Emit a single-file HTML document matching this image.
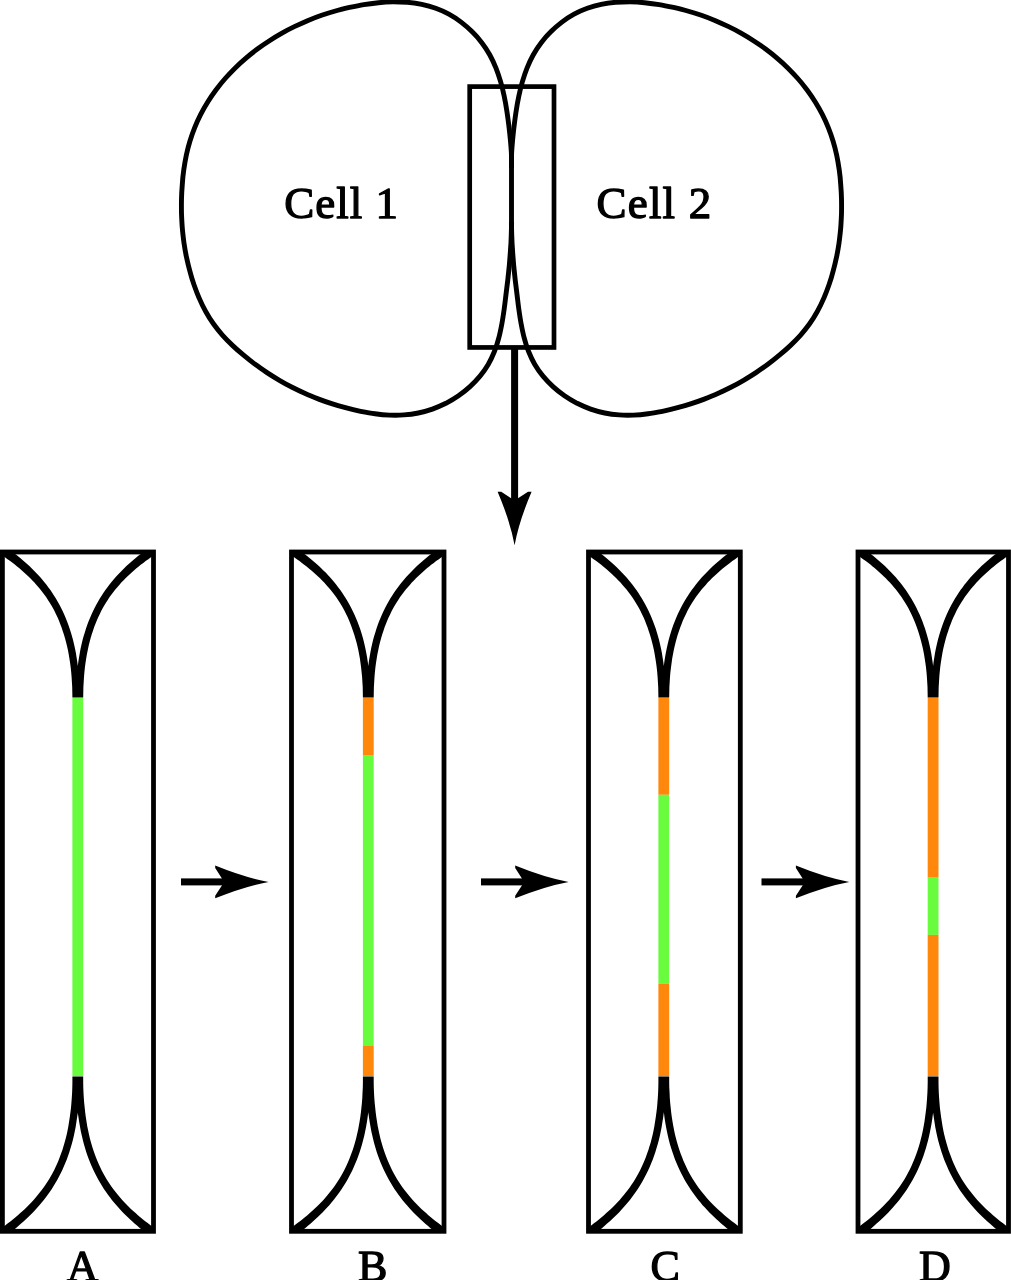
<!DOCTYPE html>
<html><head><meta charset="utf-8"><title>Cell junction diagram</title>
<style>
html,body{margin:0;padding:0;background:#fff;}
body{width:1011px;height:1280px;overflow:hidden;}
svg{display:block;will-change:transform;transform:translateZ(0);}
text{font-family:"Liberation Serif",serif;fill:#000;stroke:#000;stroke-width:1.3px;stroke-linejoin:round;}
</style></head>
<body>
<svg width="1011" height="1280" viewBox="0 0 1011 1280">
<rect width="1011" height="1280" fill="#fff"/>
<!-- two cells -->
<path d="M511.5,168.0 C511.5,165.6 511.6,158.3 511.4,153.5 C511.2,148.6 510.7,143.8 510.3,139.0 C509.8,134.1 509.3,129.3 508.7,124.5 C508.1,119.7 507.5,114.9 506.7,110.1 C506.0,105.4 505.1,100.6 504.1,95.8 C503.1,91.0 502.0,86.3 500.6,81.6 C499.2,77.0 497.7,72.4 495.9,67.9 C494.1,63.4 492.0,59.0 489.7,54.8 C487.4,50.6 484.8,46.6 481.8,42.7 C478.9,38.9 475.7,35.2 472.2,31.8 C468.8,28.3 465.0,25.1 461.1,22.1 C457.3,19.2 453.2,16.4 448.9,14.1 C444.7,11.8 440.2,9.8 435.7,8.2 C431.2,6.6 426.5,5.3 421.8,4.3 C417.1,3.4 412.3,2.7 407.5,2.3 C402.7,1.9 397.9,1.8 393.0,1.8 C388.1,1.9 383.2,2.2 378.4,2.7 C373.5,3.2 368.6,3.8 363.8,4.6 C359.0,5.4 354.2,6.4 349.5,7.4 C344.8,8.5 340.1,9.6 335.4,11.0 C330.8,12.3 326.2,13.7 321.6,15.3 C317.1,16.9 312.6,18.6 308.1,20.4 C303.7,22.3 299.3,24.3 294.9,26.4 C290.5,28.5 286.2,30.7 282.0,33.1 C277.7,35.5 273.6,38.0 269.5,40.7 C265.4,43.3 261.3,46.1 257.4,49.0 C253.5,51.9 249.7,54.9 246.0,58.1 C242.3,61.2 238.7,64.5 235.2,67.9 C231.8,71.3 228.4,74.8 225.2,78.5 C222.0,82.1 219.0,85.9 216.1,89.7 C213.2,93.6 210.4,97.6 207.9,101.7 C205.3,105.8 202.9,110.1 200.7,114.4 C198.5,118.7 196.5,123.1 194.7,127.6 C192.9,132.1 191.3,136.6 189.9,141.3 C188.5,145.9 187.3,150.6 186.3,155.3 C185.3,160.1 184.5,164.9 183.8,169.7 C183.1,174.5 182.6,179.4 182.3,184.3 C181.9,189.1 181.6,194.0 181.5,198.9 C181.4,203.7 181.4,208.6 181.5,213.5 C181.7,218.3 181.9,223.2 182.3,228.0 C182.7,232.9 183.3,237.7 183.9,242.5 C184.6,247.3 185.4,252.0 186.4,256.8 C187.4,261.5 188.5,266.3 189.8,270.9 C191.0,275.6 192.4,280.3 194.0,284.8 C195.6,289.4 197.3,294.0 199.3,298.4 C201.2,302.9 203.3,307.3 205.7,311.5 C208.0,315.7 210.6,319.9 213.4,323.8 C216.2,327.7 219.2,331.5 222.4,335.1 C225.7,338.8 229.1,342.2 232.7,345.6 C236.2,348.9 239.9,352.1 243.6,355.2 C247.4,358.4 251.2,361.4 255.1,364.3 C259.0,367.2 263.0,369.9 267.0,372.6 C271.1,375.3 275.2,377.8 279.4,380.3 C283.5,382.7 287.8,385.1 292.1,387.3 C296.4,389.5 300.8,391.6 305.2,393.5 C309.6,395.5 314.1,397.3 318.7,399.1 C323.2,400.8 327.8,402.4 332.4,403.9 C337.0,405.4 341.7,406.7 346.4,407.9 C351.1,409.2 355.8,410.3 360.6,411.3 C365.4,412.2 370.2,413.1 375.0,413.7 C379.8,414.4 384.6,414.9 389.5,415.1 C394.3,415.3 399.1,415.3 403.9,414.9 C408.7,414.6 413.5,414.0 418.3,413.0 C423.0,412.0 427.8,410.7 432.4,409.1 C437.0,407.4 441.5,405.5 445.9,403.3 C450.2,401.0 454.5,398.5 458.5,395.7 C462.5,393.0 466.4,389.9 470.0,386.6 C473.5,383.4 476.9,379.8 480.0,376.1 C483.0,372.4 485.8,368.5 488.2,364.4 C490.6,360.3 492.6,356.0 494.4,351.5 C496.2,347.1 497.6,342.5 498.8,337.8 C500.1,333.2 501.0,328.4 501.9,323.6 C502.8,318.8 503.5,313.9 504.2,309.0 C504.9,304.1 505.4,299.3 506.0,294.4 C506.6,289.6 507.2,284.7 507.8,279.9 C508.3,275.1 508.8,270.3 509.3,265.5 C509.7,260.7 510.1,255.9 510.4,251.1 C510.8,246.2 511.1,241.4 511.2,236.6 C511.4,231.7 511.5,224.4 511.6,222.0" fill="none" stroke="#000" stroke-width="4.9" stroke-linejoin="round"/>
<path d="M511.5,168.0 C511.5,165.6 511.4,158.3 511.6,153.5 C511.8,148.6 512.3,143.8 512.7,139.0 C513.2,134.1 513.7,129.3 514.3,124.5 C514.9,119.7 515.5,114.9 516.3,110.1 C517.0,105.4 517.9,100.6 518.9,95.8 C519.9,91.0 521.0,86.3 522.4,81.6 C523.8,77.0 525.3,72.4 527.1,67.9 C528.9,63.4 531.0,59.0 533.3,54.8 C535.6,50.6 538.2,46.6 541.2,42.7 C544.1,38.9 547.3,35.2 550.8,31.8 C554.2,28.3 558.0,25.1 561.9,22.1 C565.7,19.2 569.8,16.4 574.1,14.1 C578.3,11.8 582.8,9.8 587.3,8.2 C591.8,6.6 596.5,5.3 601.2,4.3 C605.9,3.4 610.7,2.7 615.5,2.3 C620.3,1.9 625.1,1.8 630.0,1.8 C634.9,1.9 639.8,2.2 644.6,2.7 C649.5,3.2 654.4,3.8 659.2,4.6 C664.0,5.4 668.8,6.4 673.5,7.4 C678.2,8.5 682.9,9.6 687.6,11.0 C692.2,12.3 696.8,13.7 701.4,15.3 C705.9,16.9 710.4,18.6 714.9,20.4 C719.3,22.3 723.7,24.3 728.1,26.4 C732.5,28.5 736.8,30.7 741.0,33.1 C745.3,35.5 749.4,38.0 753.5,40.7 C757.6,43.3 761.7,46.1 765.6,49.0 C769.5,51.9 773.3,54.9 777.0,58.1 C780.7,61.2 784.3,64.5 787.8,67.9 C791.2,71.3 794.6,74.8 797.8,78.5 C801.0,82.1 804.0,85.9 806.9,89.7 C809.8,93.6 812.6,97.6 815.1,101.7 C817.7,105.8 820.1,110.1 822.3,114.4 C824.5,118.7 826.5,123.1 828.3,127.6 C830.1,132.1 831.7,136.6 833.1,141.3 C834.5,145.9 835.7,150.6 836.7,155.3 C837.7,160.1 838.5,164.9 839.2,169.7 C839.9,174.5 840.4,179.4 840.7,184.3 C841.1,189.1 841.4,194.0 841.5,198.9 C841.6,203.7 841.6,208.6 841.5,213.5 C841.3,218.3 841.1,223.2 840.7,228.0 C840.3,232.9 839.7,237.7 839.1,242.5 C838.4,247.3 837.6,252.0 836.6,256.8 C835.6,261.5 834.5,266.3 833.2,270.9 C832.0,275.6 830.6,280.3 829.0,284.8 C827.4,289.4 825.7,294.0 823.7,298.4 C821.8,302.9 819.7,307.3 817.3,311.5 C815.0,315.7 812.4,319.9 809.6,323.8 C806.8,327.7 803.8,331.5 800.6,335.1 C797.3,338.8 793.9,342.2 790.3,345.6 C786.8,348.9 783.1,352.1 779.4,355.2 C775.6,358.4 771.8,361.4 767.9,364.3 C764.0,367.2 760.0,369.9 756.0,372.6 C751.9,375.3 747.8,377.8 743.6,380.3 C739.5,382.7 735.2,385.1 730.9,387.3 C726.6,389.5 722.2,391.6 717.8,393.5 C713.4,395.5 708.9,397.3 704.3,399.1 C699.8,400.8 695.2,402.4 690.6,403.9 C686.0,405.4 681.3,406.7 676.6,407.9 C671.9,409.2 667.2,410.3 662.4,411.3 C657.6,412.2 652.8,413.1 648.0,413.7 C643.2,414.4 638.4,414.9 633.5,415.1 C628.7,415.3 623.9,415.3 619.1,414.9 C614.3,414.6 609.5,414.0 604.7,413.0 C600.0,412.0 595.2,410.7 590.6,409.1 C586.0,407.4 581.5,405.5 577.1,403.3 C572.8,401.0 568.5,398.5 564.5,395.7 C560.5,393.0 556.6,389.9 553.0,386.6 C549.5,383.4 546.1,379.8 543.0,376.1 C540.0,372.4 537.2,368.5 534.8,364.4 C532.4,360.3 530.4,356.0 528.6,351.5 C526.8,347.1 525.4,342.5 524.2,337.8 C522.9,333.2 522.0,328.4 521.1,323.6 C520.2,318.8 519.5,313.9 518.8,309.0 C518.1,304.1 517.6,299.3 517.0,294.4 C516.4,289.6 515.8,284.7 515.2,279.9 C514.7,275.1 514.2,270.3 513.7,265.5 C513.3,260.7 512.9,255.9 512.6,251.1 C512.2,246.2 511.9,241.4 511.8,236.6 C511.6,231.7 511.5,224.4 511.4,222.0" fill="none" stroke="#000" stroke-width="4.9" stroke-linejoin="round"/>
<path d="M511.5,150 L511.5,240" fill="none" stroke="#000" stroke-width="4.9"/>
<!-- inset rectangle -->
<rect x="469.7" y="86.6" width="84.3" height="260.85" fill="none" stroke="#000" stroke-width="4.7"/>
<text x="284.3" y="218.2" font-size="45" letter-spacing="1.0">Cell 1</text>
<text x="596.5" y="218.2" font-size="45" letter-spacing="1.2">Cell 2</text>
<!-- down arrow -->
<rect x="511.1" y="347" width="7" height="154.6" fill="#000"/><path d="M497.6,491.8 Q510.20000000000005,521.2 514.6,545.2 Q519.0,521.2 531.6,491.8 L528.0,491.8 L516.1,499.6 L513.1,499.6 L501.20000000000005,491.8 Z" fill="#000"/>
<!-- panels -->
<rect x="72.40" y="697.70" width="10.8" height="378.50" fill="#68FB3E"/>
<clipPath id="clipA"><rect x="0.60" y="550.20" width="154.70" height="682.90"/></clipPath>
<path d="M0.8,554.3 L3.2,556.0 L5.6,557.7 L7.9,559.4 L10.2,561.1 L12.5,562.8 L14.8,564.6 L17.1,566.5 L19.4,568.3 L21.6,570.2 L23.8,572.2 L26.0,574.2 L28.2,576.2 L30.3,578.3 L32.4,580.4 L34.4,582.6 L36.5,584.9 L38.5,587.2 L40.4,589.5 L42.3,592.0 L44.2,594.5 L46.1,597.0 L47.8,599.7 L49.6,602.4 L51.3,605.2 L52.9,608.1 L54.5,611.1 L56.0,614.2 L57.5,617.3 L58.9,620.6 L60.2,623.9 L61.5,627.3 L62.7,630.9 L63.9,634.5 L65.0,638.2 L66.0,642.1 L67.0,646.0 L67.9,650.1 L68.7,654.3 L69.4,658.6 L70.1,663.0 L70.7,667.5 L71.2,672.2 L71.6,677.0 L71.9,681.9 L72.2,687.0 L72.3,692.2 L72.4,697.5 L79.7,697.5 L79.6,692.0 L79.5,686.7 L79.2,681.5 L78.9,676.4 L78.4,671.5 L77.9,666.7 L77.3,662.0 L76.6,657.4 L75.9,653.0 L75.0,648.6 L74.1,644.4 L73.1,640.3 L72.0,636.3 L70.9,632.4 L69.6,628.6 L68.4,624.9 L67.0,621.2 L65.6,617.7 L64.1,614.3 L62.6,611.0 L61.0,607.8 L59.3,604.6 L57.6,601.6 L55.9,598.6 L54.1,595.7 L52.2,592.8 L50.4,590.1 L48.4,587.4 L46.5,584.8 L44.4,582.2 L42.4,579.7 L40.3,577.3 L38.2,575.0 L36.0,572.7 L33.8,570.4 L31.6,568.2 L29.4,566.1 L27.1,564.0 L24.8,562.0 L22.5,560.0 L20.2,558.0 L17.8,556.1 L15.5,554.3 L13.1,552.4 L10.7,550.6 L8.4,548.8 L6.0,547.1Z M149.9,547.1 L147.5,548.8 L145.1,550.6 L142.8,552.4 L140.4,554.2 L138.0,556.1 L135.7,558.0 L133.3,560.0 L131.0,562.0 L128.7,564.0 L126.4,566.1 L124.2,568.2 L122.0,570.4 L119.8,572.7 L117.6,575.0 L115.5,577.3 L113.4,579.7 L111.3,582.2 L109.3,584.8 L107.3,587.4 L105.4,590.1 L103.5,592.8 L101.6,595.7 L99.8,598.6 L98.1,601.6 L96.4,604.6 L94.7,607.8 L93.1,611.0 L91.6,614.3 L90.1,617.7 L88.6,621.2 L87.3,624.8 L86.0,628.5 L84.8,632.4 L83.6,636.3 L82.5,640.3 L81.5,644.4 L80.6,648.6 L79.8,653.0 L79.0,657.4 L78.3,662.0 L77.7,666.7 L77.2,671.5 L76.7,676.4 L76.4,681.5 L76.1,686.7 L76.0,692.0 L75.9,697.5 L83.2,697.5 L83.3,692.2 L83.4,687.0 L83.7,681.9 L84.0,677.0 L84.4,672.2 L84.9,667.5 L85.5,663.0 L86.2,658.6 L86.9,654.3 L87.8,650.1 L88.6,646.0 L89.6,642.1 L90.6,638.2 L91.7,634.5 L92.9,630.9 L94.1,627.3 L95.4,623.9 L96.8,620.6 L98.2,617.3 L99.7,614.2 L101.2,611.1 L102.8,608.1 L104.4,605.2 L106.1,602.4 L107.9,599.7 L109.6,597.0 L111.5,594.5 L113.4,592.0 L115.3,589.5 L117.3,587.2 L119.3,584.9 L121.3,582.6 L123.4,580.4 L125.5,578.3 L127.6,576.2 L129.8,574.2 L132.0,572.2 L134.2,570.2 L136.4,568.3 L138.7,566.5 L141.0,564.6 L143.3,562.9 L145.6,561.1 L148.0,559.4 L150.3,557.7 L152.7,556.0 L155.1,554.3Z M6.0,1236.0 L8.5,1234.0 L11.1,1232.0 L13.6,1229.9 L16.1,1227.9 L18.6,1225.8 L21.1,1223.6 L23.5,1221.5 L25.9,1219.3 L28.3,1217.0 L30.6,1214.8 L32.9,1212.4 L35.2,1210.1 L37.4,1207.6 L39.6,1205.1 L41.7,1202.6 L43.8,1200.0 L45.9,1197.3 L47.9,1194.6 L49.9,1191.8 L51.8,1188.9 L53.6,1186.0 L55.4,1183.0 L57.2,1179.9 L58.9,1176.7 L60.6,1173.5 L62.2,1170.2 L63.7,1166.8 L65.2,1163.3 L66.7,1159.7 L68.0,1156.0 L69.3,1152.2 L70.5,1148.3 L71.7,1144.3 L72.8,1140.3 L73.8,1136.1 L74.7,1131.8 L75.6,1127.3 L76.3,1122.8 L77.0,1118.1 L77.7,1113.4 L78.2,1108.5 L78.7,1103.5 L79.1,1098.3 L79.3,1093.0 L79.6,1087.6 L79.7,1082.1 L79.7,1076.4 L72.4,1076.4 L72.4,1082.0 L72.3,1087.4 L72.1,1092.7 L71.8,1097.8 L71.4,1102.9 L71.0,1107.7 L70.4,1112.5 L69.8,1117.1 L69.1,1121.6 L68.4,1126.0 L67.6,1130.3 L66.7,1134.4 L65.7,1138.5 L64.6,1142.4 L63.5,1146.2 L62.4,1149.9 L61.1,1153.6 L59.8,1157.1 L58.5,1160.5 L57.1,1163.8 L55.6,1167.1 L54.1,1170.2 L52.5,1173.3 L50.8,1176.3 L49.1,1179.2 L47.3,1182.0 L45.5,1184.8 L43.6,1187.4 L41.7,1190.0 L39.7,1192.6 L37.7,1195.1 L35.7,1197.5 L33.6,1199.9 L31.5,1202.2 L29.3,1204.5 L27.1,1206.7 L24.9,1208.9 L22.6,1211.0 L20.3,1213.1 L17.9,1215.2 L15.5,1217.2 L13.1,1219.2 L10.7,1221.2 L8.2,1223.1 L5.7,1225.1 L3.2,1227.0 L0.6,1228.8Z M155.3,1228.8 L152.7,1226.9 L150.2,1225.0 L147.7,1223.1 L145.2,1221.2 L142.7,1219.2 L140.3,1217.2 L137.9,1215.2 L135.6,1213.1 L133.2,1211.0 L130.9,1208.9 L128.7,1206.7 L126.5,1204.5 L124.3,1202.2 L122.2,1199.9 L120.1,1197.5 L118.0,1195.1 L116.0,1192.6 L114.0,1190.0 L112.1,1187.4 L110.2,1184.7 L108.4,1182.0 L106.6,1179.2 L104.9,1176.3 L103.2,1173.3 L101.6,1170.2 L100.1,1167.1 L98.6,1163.8 L97.2,1160.5 L95.8,1157.1 L94.5,1153.6 L93.3,1149.9 L92.1,1146.2 L91.0,1142.4 L89.9,1138.5 L89.0,1134.4 L88.1,1130.3 L87.2,1126.0 L86.5,1121.6 L85.8,1117.1 L85.2,1112.5 L84.7,1107.7 L84.2,1102.9 L83.8,1097.8 L83.5,1092.7 L83.3,1087.4 L83.2,1082.0 L83.2,1076.4 L75.9,1076.4 L75.9,1082.1 L76.0,1087.6 L76.3,1093.0 L76.5,1098.3 L76.9,1103.5 L77.4,1108.5 L77.9,1113.4 L78.6,1118.2 L79.3,1122.8 L80.1,1127.3 L80.9,1131.8 L81.9,1136.1 L82.9,1140.3 L84.0,1144.4 L85.1,1148.3 L86.3,1152.2 L87.6,1156.0 L89.0,1159.7 L90.4,1163.3 L91.9,1166.8 L93.5,1170.2 L95.1,1173.5 L96.8,1176.7 L98.5,1179.9 L100.3,1183.0 L102.1,1186.0 L103.9,1188.9 L105.9,1191.8 L107.8,1194.6 L109.9,1197.3 L111.9,1200.0 L114.0,1202.6 L116.2,1205.1 L118.4,1207.6 L120.6,1210.1 L122.9,1212.4 L125.2,1214.8 L127.6,1217.1 L129.9,1219.3 L132.4,1221.5 L134.8,1223.7 L137.3,1225.8 L139.7,1227.9 L142.3,1229.9 L144.8,1232.0 L147.4,1234.0 L149.9,1236.0Z" fill="#000" clip-path="url(#clipA)"/>
<rect x="2.4" y="552.0" width="151.10" height="679.30" fill="none" stroke="#000" stroke-width="4.8"/>
<text x="82.6" y="1281.0" text-anchor="middle" font-size="44">A</text>
<rect x="362.90" y="697.70" width="10.8" height="57.30" fill="#FF870B"/>
<rect x="362.90" y="755.00" width="10.8" height="291.00" fill="#68FB3E"/>
<rect x="362.90" y="1046.00" width="10.8" height="30.20" fill="#FF870B"/>
<clipPath id="clipB"><rect x="289.70" y="550.20" width="156.10" height="682.90"/></clipPath>
<path d="M290.0,554.4 L292.4,556.0 L294.8,557.7 L297.2,559.4 L299.5,561.1 L301.9,562.9 L304.2,564.7 L306.6,566.5 L308.9,568.4 L311.1,570.3 L313.4,572.2 L315.6,574.2 L317.8,576.2 L320.0,578.3 L322.1,580.4 L324.2,582.6 L326.3,584.9 L328.3,587.2 L330.3,589.6 L332.3,592.0 L334.2,594.5 L336.1,597.1 L337.9,599.7 L339.7,602.4 L341.4,605.2 L343.0,608.1 L344.6,611.1 L346.2,614.2 L347.7,617.3 L349.1,620.6 L350.5,623.9 L351.8,627.4 L353.0,630.9 L354.2,634.5 L355.3,638.3 L356.4,642.1 L357.4,646.0 L358.3,650.1 L359.1,654.3 L359.9,658.6 L360.5,663.0 L361.1,667.6 L361.6,672.2 L362.1,677.0 L362.4,681.9 L362.7,687.0 L362.8,692.2 L362.9,697.5 L370.2,697.5 L370.1,692.0 L370.0,686.7 L369.7,681.5 L369.4,676.4 L368.9,671.5 L368.4,666.7 L367.8,662.0 L367.1,657.4 L366.3,653.0 L365.4,648.6 L364.5,644.4 L363.5,640.3 L362.4,636.2 L361.2,632.3 L360.0,628.5 L358.6,624.8 L357.3,621.2 L355.8,617.7 L354.3,614.3 L352.7,611.0 L351.1,607.7 L349.4,604.6 L347.7,601.5 L345.9,598.6 L344.1,595.7 L342.2,592.8 L340.3,590.1 L338.3,587.4 L336.3,584.7 L334.3,582.2 L332.2,579.7 L330.0,577.3 L327.9,574.9 L325.7,572.6 L323.4,570.4 L321.2,568.2 L318.9,566.1 L316.6,564.0 L314.3,562.0 L311.9,560.0 L309.5,558.0 L307.1,556.1 L304.7,554.2 L302.3,552.4 L299.9,550.6 L297.5,548.8 L295.0,547.0Z M440.4,547.1 L438.0,548.8 L435.6,550.6 L433.3,552.4 L430.9,554.2 L428.5,556.1 L426.2,558.0 L423.8,560.0 L421.5,562.0 L419.2,564.0 L416.9,566.1 L414.7,568.2 L412.5,570.4 L410.3,572.7 L408.1,575.0 L406.0,577.3 L403.9,579.7 L401.8,582.2 L399.8,584.8 L397.8,587.4 L395.9,590.1 L394.0,592.8 L392.1,595.7 L390.3,598.6 L388.6,601.6 L386.9,604.6 L385.2,607.8 L383.6,611.0 L382.1,614.3 L380.6,617.7 L379.1,621.2 L377.8,624.8 L376.5,628.5 L375.3,632.4 L374.1,636.3 L373.0,640.3 L372.0,644.4 L371.1,648.6 L370.3,653.0 L369.5,657.4 L368.8,662.0 L368.2,666.7 L367.7,671.5 L367.2,676.4 L366.9,681.5 L366.6,686.7 L366.5,692.0 L366.4,697.5 L373.7,697.5 L373.8,692.2 L373.9,687.0 L374.2,681.9 L374.5,677.0 L374.9,672.2 L375.4,667.5 L376.0,663.0 L376.7,658.6 L377.4,654.3 L378.3,650.1 L379.1,646.0 L380.1,642.1 L381.1,638.2 L382.2,634.5 L383.4,630.9 L384.6,627.3 L385.9,623.9 L387.3,620.6 L388.7,617.3 L390.2,614.2 L391.7,611.1 L393.3,608.1 L394.9,605.2 L396.6,602.4 L398.4,599.7 L400.1,597.0 L402.0,594.5 L403.9,592.0 L405.8,589.5 L407.8,587.2 L409.8,584.9 L411.8,582.6 L413.9,580.4 L416.0,578.3 L418.1,576.2 L420.3,574.2 L422.5,572.2 L424.7,570.2 L426.9,568.3 L429.2,566.5 L431.5,564.6 L433.8,562.9 L436.1,561.1 L438.5,559.4 L440.8,557.7 L443.2,556.0 L445.6,554.3Z M295.0,1236.0 L297.7,1234.0 L300.3,1232.0 L302.8,1230.0 L305.4,1227.9 L307.9,1225.8 L310.4,1223.7 L312.9,1221.5 L315.3,1219.3 L317.8,1217.1 L320.1,1214.8 L322.5,1212.5 L324.8,1210.1 L327.1,1207.6 L329.3,1205.2 L331.5,1202.6 L333.6,1200.0 L335.7,1197.3 L337.8,1194.6 L339.8,1191.8 L341.7,1189.0 L343.6,1186.0 L345.5,1183.0 L347.3,1179.9 L349.0,1176.8 L350.7,1173.5 L352.4,1170.2 L353.9,1166.8 L355.4,1163.3 L356.9,1159.7 L358.3,1156.0 L359.6,1152.2 L360.8,1148.4 L362.0,1144.4 L363.1,1140.3 L364.2,1136.1 L365.1,1131.8 L366.0,1127.3 L366.8,1122.8 L367.5,1118.2 L368.1,1113.4 L368.7,1108.5 L369.2,1103.5 L369.5,1098.3 L369.8,1093.0 L370.0,1087.6 L370.2,1082.1 L370.2,1076.4 L362.9,1076.4 L362.9,1082.0 L362.8,1087.4 L362.5,1092.7 L362.3,1097.8 L361.9,1102.9 L361.4,1107.7 L360.9,1112.5 L360.3,1117.1 L359.6,1121.6 L358.8,1126.0 L358.0,1130.3 L357.0,1134.4 L356.1,1138.5 L355.0,1142.4 L353.9,1146.2 L352.7,1149.9 L351.4,1153.5 L350.1,1157.1 L348.7,1160.5 L347.3,1163.8 L345.8,1167.0 L344.2,1170.2 L342.6,1173.3 L340.9,1176.3 L339.1,1179.2 L337.3,1182.0 L335.5,1184.7 L333.6,1187.4 L331.6,1190.0 L329.6,1192.6 L327.6,1195.1 L325.5,1197.5 L323.4,1199.9 L321.2,1202.2 L319.0,1204.4 L316.7,1206.7 L314.5,1208.8 L312.1,1211.0 L309.8,1213.1 L307.4,1215.2 L304.9,1217.2 L302.5,1219.2 L300.0,1221.2 L297.5,1223.1 L294.9,1225.0 L292.4,1226.9 L289.8,1228.8Z M445.8,1228.8 L443.2,1226.9 L440.7,1225.0 L438.2,1223.1 L435.7,1221.2 L433.2,1219.2 L430.8,1217.2 L428.4,1215.2 L426.1,1213.1 L423.7,1211.0 L421.4,1208.9 L419.2,1206.7 L417.0,1204.5 L414.8,1202.2 L412.7,1199.9 L410.6,1197.5 L408.5,1195.1 L406.5,1192.6 L404.5,1190.0 L402.6,1187.4 L400.7,1184.7 L398.9,1182.0 L397.1,1179.2 L395.4,1176.3 L393.7,1173.3 L392.1,1170.2 L390.6,1167.1 L389.1,1163.8 L387.7,1160.5 L386.3,1157.1 L385.0,1153.6 L383.8,1149.9 L382.6,1146.2 L381.5,1142.4 L380.4,1138.5 L379.5,1134.4 L378.6,1130.3 L377.7,1126.0 L377.0,1121.6 L376.3,1117.1 L375.7,1112.5 L375.2,1107.7 L374.7,1102.9 L374.3,1097.8 L374.0,1092.7 L373.8,1087.4 L373.7,1082.0 L373.7,1076.4 L366.4,1076.4 L366.4,1082.1 L366.5,1087.6 L366.8,1093.0 L367.0,1098.3 L367.4,1103.5 L367.9,1108.5 L368.4,1113.4 L369.1,1118.2 L369.8,1122.8 L370.6,1127.3 L371.4,1131.8 L372.4,1136.1 L373.4,1140.3 L374.5,1144.4 L375.6,1148.3 L376.8,1152.2 L378.1,1156.0 L379.5,1159.7 L380.9,1163.3 L382.4,1166.8 L384.0,1170.2 L385.6,1173.5 L387.3,1176.7 L389.0,1179.9 L390.8,1183.0 L392.6,1186.0 L394.4,1188.9 L396.4,1191.8 L398.3,1194.6 L400.4,1197.3 L402.4,1200.0 L404.5,1202.6 L406.7,1205.1 L408.9,1207.6 L411.1,1210.1 L413.4,1212.4 L415.7,1214.8 L418.1,1217.1 L420.4,1219.3 L422.9,1221.5 L425.3,1223.7 L427.8,1225.8 L430.2,1227.9 L432.8,1229.9 L435.3,1232.0 L437.9,1234.0 L440.4,1236.0Z" fill="#000" clip-path="url(#clipB)"/>
<rect x="291.5" y="552.0" width="152.50" height="679.30" fill="none" stroke="#000" stroke-width="4.8"/>
<text x="372.7" y="1281.0" text-anchor="middle" font-size="44">B</text>
<rect x="658.40" y="697.70" width="10.8" height="97.10" fill="#FF870B"/>
<rect x="658.40" y="794.80" width="10.8" height="189.00" fill="#68FB3E"/>
<rect x="658.40" y="983.80" width="10.8" height="92.40" fill="#FF870B"/>
<clipPath id="clipC"><rect x="586.70" y="550.20" width="155.40" height="682.90"/></clipPath>
<path d="M586.9,554.3 L589.3,556.0 L591.6,557.7 L594.0,559.4 L596.3,561.1 L598.6,562.8 L600.9,564.6 L603.2,566.5 L605.4,568.3 L607.7,570.2 L609.9,572.2 L612.1,574.2 L614.2,576.2 L616.3,578.3 L618.4,580.4 L620.5,582.6 L622.5,584.9 L624.5,587.2 L626.5,589.5 L628.4,592.0 L630.3,594.5 L632.1,597.0 L633.9,599.7 L635.6,602.4 L637.3,605.2 L638.9,608.1 L640.5,611.1 L642.0,614.2 L643.5,617.3 L644.9,620.6 L646.2,623.9 L647.5,627.3 L648.7,630.9 L649.9,634.5 L651.0,638.2 L652.0,642.1 L653.0,646.0 L653.9,650.1 L654.7,654.3 L655.4,658.6 L656.1,663.0 L656.7,667.5 L657.2,672.2 L657.6,677.0 L657.9,681.9 L658.2,687.0 L658.3,692.2 L658.4,697.5 L665.7,697.5 L665.6,692.0 L665.5,686.7 L665.2,681.5 L664.9,676.4 L664.4,671.5 L663.9,666.7 L663.3,662.0 L662.6,657.4 L661.9,653.0 L661.0,648.6 L660.1,644.4 L659.1,640.3 L658.0,636.3 L656.9,632.4 L655.7,628.6 L654.4,624.9 L653.0,621.2 L651.6,617.7 L650.1,614.3 L648.6,611.0 L647.0,607.8 L645.3,604.6 L643.6,601.6 L641.9,598.6 L640.1,595.7 L638.3,592.8 L636.4,590.1 L634.5,587.4 L632.5,584.8 L630.5,582.2 L628.4,579.7 L626.4,577.3 L624.2,575.0 L622.1,572.7 L619.9,570.4 L617.7,568.2 L615.4,566.1 L613.2,564.0 L610.9,562.0 L608.6,560.0 L606.3,558.0 L603.9,556.1 L601.6,554.3 L599.2,552.4 L596.8,550.6 L594.5,548.8 L592.1,547.1Z M736.7,547.1 L734.3,548.8 L731.9,550.6 L729.5,552.4 L727.1,554.2 L724.7,556.1 L722.3,558.0 L720.0,560.0 L717.6,562.0 L715.3,564.0 L713.0,566.1 L710.7,568.2 L708.5,570.4 L706.3,572.7 L704.1,574.9 L701.9,577.3 L699.8,579.7 L697.7,582.2 L695.7,584.8 L693.7,587.4 L691.7,590.1 L689.8,592.8 L687.9,595.7 L686.1,598.6 L684.3,601.6 L682.6,604.6 L680.9,607.8 L679.3,611.0 L677.7,614.3 L676.2,617.7 L674.8,621.2 L673.4,624.8 L672.1,628.5 L670.9,632.3 L669.7,636.2 L668.6,640.3 L667.6,644.4 L666.7,648.6 L665.8,653.0 L665.0,657.4 L664.3,662.0 L663.7,666.7 L663.2,671.5 L662.7,676.4 L662.4,681.5 L662.1,686.7 L662.0,692.0 L661.9,697.5 L669.2,697.5 L669.3,692.2 L669.4,687.0 L669.7,681.9 L670.0,677.0 L670.4,672.2 L671.0,667.6 L671.6,663.0 L672.2,658.6 L673.0,654.3 L673.8,650.1 L674.7,646.0 L675.7,642.1 L676.7,638.2 L677.8,634.5 L679.0,630.9 L680.3,627.3 L681.6,623.9 L682.9,620.6 L684.4,617.3 L685.9,614.2 L687.4,611.1 L689.0,608.1 L690.6,605.2 L692.3,602.4 L694.1,599.7 L695.9,597.1 L697.8,594.5 L699.7,592.0 L701.6,589.6 L703.6,587.2 L705.7,584.9 L707.7,582.6 L709.8,580.4 L711.9,578.3 L714.1,576.2 L716.3,574.2 L718.5,572.2 L720.7,570.2 L723.0,568.3 L725.3,566.5 L727.6,564.7 L729.9,562.9 L732.3,561.1 L734.7,559.4 L737.0,557.7 L739.4,556.0 L741.9,554.3Z M592.1,1236.0 L594.6,1234.0 L597.2,1232.0 L599.7,1229.9 L602.2,1227.9 L604.7,1225.8 L607.1,1223.6 L609.6,1221.5 L612.0,1219.3 L614.3,1217.0 L616.7,1214.8 L619.0,1212.4 L621.2,1210.0 L623.4,1207.6 L625.6,1205.1 L627.8,1202.6 L629.9,1200.0 L631.9,1197.3 L633.9,1194.6 L635.9,1191.8 L637.8,1188.9 L639.7,1186.0 L641.5,1183.0 L643.2,1179.9 L644.9,1176.7 L646.6,1173.5 L648.2,1170.2 L649.8,1166.8 L651.2,1163.3 L652.7,1159.7 L654.0,1156.0 L655.3,1152.2 L656.5,1148.3 L657.7,1144.3 L658.8,1140.3 L659.8,1136.1 L660.7,1131.8 L661.6,1127.3 L662.3,1122.8 L663.1,1118.1 L663.7,1113.4 L664.2,1108.5 L664.7,1103.5 L665.1,1098.3 L665.3,1093.0 L665.6,1087.6 L665.7,1082.1 L665.7,1076.4 L658.4,1076.4 L658.4,1082.0 L658.3,1087.4 L658.1,1092.7 L657.8,1097.8 L657.4,1102.9 L657.0,1107.7 L656.4,1112.5 L655.8,1117.1 L655.1,1121.6 L654.4,1126.0 L653.6,1130.3 L652.7,1134.4 L651.7,1138.5 L650.7,1142.4 L649.5,1146.2 L648.4,1149.9 L647.1,1153.6 L645.9,1157.1 L644.5,1160.5 L643.1,1163.8 L641.6,1167.1 L640.1,1170.2 L638.5,1173.3 L636.8,1176.3 L635.1,1179.2 L633.4,1182.0 L631.5,1184.8 L629.7,1187.4 L627.8,1190.0 L625.8,1192.6 L623.8,1195.1 L621.7,1197.5 L619.7,1199.9 L617.5,1202.2 L615.4,1204.5 L613.2,1206.7 L610.9,1208.9 L608.6,1211.0 L606.3,1213.1 L604.0,1215.2 L601.6,1217.2 L599.2,1219.2 L596.8,1221.2 L594.3,1223.1 L591.8,1225.1 L589.3,1227.0 L586.7,1228.8Z M742.0,1228.8 L739.5,1226.9 L736.9,1225.0 L734.4,1223.1 L731.9,1221.2 L729.4,1219.2 L726.9,1217.2 L724.5,1215.2 L722.1,1213.1 L719.8,1211.0 L717.5,1208.9 L715.2,1206.7 L712.9,1204.5 L710.7,1202.2 L708.6,1199.9 L706.4,1197.5 L704.4,1195.1 L702.3,1192.6 L700.3,1190.0 L698.4,1187.4 L696.5,1184.7 L694.7,1182.0 L692.9,1179.2 L691.1,1176.3 L689.4,1173.3 L687.8,1170.2 L686.3,1167.1 L684.8,1163.8 L683.3,1160.5 L682.0,1157.1 L680.6,1153.5 L679.4,1149.9 L678.2,1146.2 L677.1,1142.4 L676.0,1138.5 L675.0,1134.4 L674.1,1130.3 L673.3,1126.0 L672.5,1121.6 L671.8,1117.1 L671.2,1112.5 L670.7,1107.7 L670.2,1102.9 L669.8,1097.8 L669.6,1092.7 L669.3,1087.4 L669.2,1082.0 L669.2,1076.4 L661.9,1076.4 L661.9,1082.1 L662.0,1087.6 L662.3,1093.0 L662.6,1098.3 L662.9,1103.5 L663.4,1108.5 L664.0,1113.4 L664.6,1118.2 L665.3,1122.8 L666.1,1127.3 L667.0,1131.8 L667.9,1136.1 L668.9,1140.3 L670.0,1144.4 L671.2,1148.3 L672.5,1152.2 L673.8,1156.0 L675.1,1159.7 L676.6,1163.3 L678.1,1166.8 L679.7,1170.2 L681.3,1173.5 L683.0,1176.8 L684.7,1179.9 L686.5,1183.0 L688.4,1186.0 L690.3,1189.0 L692.2,1191.8 L694.2,1194.6 L696.2,1197.3 L698.3,1200.0 L700.5,1202.6 L702.6,1205.2 L704.9,1207.6 L707.1,1210.1 L709.4,1212.5 L711.8,1214.8 L714.1,1217.1 L716.5,1219.3 L719.0,1221.5 L721.4,1223.7 L723.9,1225.8 L726.5,1227.9 L729.0,1229.9 L731.6,1232.0 L734.1,1234.0 L736.8,1236.0Z" fill="#000" clip-path="url(#clipC)"/>
<rect x="588.5" y="552.0" width="151.80" height="679.30" fill="none" stroke="#000" stroke-width="4.8"/>
<text x="665.2" y="1281.0" text-anchor="middle" font-size="44">C</text>
<rect x="927.70" y="697.70" width="10.8" height="180.00" fill="#FF870B"/>
<rect x="927.70" y="877.70" width="10.8" height="57.20" fill="#68FB3E"/>
<rect x="927.70" y="934.90" width="10.8" height="141.30" fill="#FF870B"/>
<clipPath id="clipD"><rect x="856.20" y="550.20" width="154.10" height="682.90"/></clipPath>
<path d="M856.4,554.3 L858.8,556.0 L861.1,557.7 L863.5,559.4 L865.8,561.1 L868.1,562.8 L870.4,564.6 L872.6,566.5 L874.9,568.3 L877.1,570.2 L879.3,572.2 L881.5,574.2 L883.6,576.2 L885.8,578.3 L887.8,580.4 L889.9,582.6 L891.9,584.8 L893.9,587.2 L895.9,589.5 L897.8,592.0 L899.6,594.5 L901.5,597.0 L903.2,599.7 L905.0,602.4 L906.7,605.2 L908.3,608.1 L909.8,611.1 L911.4,614.2 L912.8,617.3 L914.2,620.6 L915.6,623.9 L916.8,627.3 L918.1,630.9 L919.2,634.5 L920.3,638.2 L921.3,642.1 L922.3,646.0 L923.2,650.1 L924.0,654.3 L924.7,658.6 L925.4,663.0 L926.0,667.5 L926.5,672.2 L926.9,677.0 L927.2,681.9 L927.5,687.0 L927.6,692.2 L927.7,697.5 L935.0,697.5 L934.9,692.0 L934.8,686.7 L934.5,681.5 L934.2,676.4 L933.7,671.5 L933.2,666.7 L932.6,662.0 L931.9,657.4 L931.2,653.0 L930.3,648.6 L929.4,644.4 L928.4,640.3 L927.3,636.3 L926.2,632.4 L925.0,628.6 L923.7,624.9 L922.4,621.3 L921.0,617.7 L919.5,614.3 L917.9,611.0 L916.4,607.8 L914.7,604.6 L913.0,601.6 L911.3,598.6 L909.5,595.7 L907.6,592.8 L905.8,590.1 L903.9,587.4 L901.9,584.8 L899.9,582.2 L897.8,579.8 L895.8,577.3 L893.6,575.0 L891.5,572.7 L889.3,570.4 L887.1,568.2 L884.9,566.1 L882.6,564.0 L880.3,562.0 L878.0,560.0 L875.7,558.0 L873.4,556.1 L871.1,554.3 L868.7,552.4 L866.3,550.6 L864.0,548.8 L861.6,547.1Z M1004.9,547.1 L1002.5,548.8 L1000.2,550.6 L997.8,552.4 L995.4,554.3 L993.1,556.1 L990.7,558.0 L988.4,560.0 L986.1,562.0 L983.8,564.0 L981.5,566.1 L979.3,568.2 L977.1,570.4 L974.9,572.7 L972.7,575.0 L970.6,577.3 L968.5,579.7 L966.5,582.2 L964.4,584.8 L962.5,587.4 L960.5,590.1 L958.7,592.8 L956.8,595.7 L955.0,598.6 L953.3,601.6 L951.6,604.6 L949.9,607.8 L948.3,611.0 L946.8,614.3 L945.3,617.7 L943.9,621.2 L942.5,624.9 L941.3,628.6 L940.0,632.4 L938.9,636.3 L937.8,640.3 L936.8,644.4 L935.9,648.6 L935.0,653.0 L934.3,657.4 L933.6,662.0 L933.0,666.7 L932.5,671.5 L932.0,676.4 L931.7,681.5 L931.4,686.7 L931.3,692.0 L931.2,697.5 L938.5,697.5 L938.6,692.2 L938.7,687.0 L939.0,681.9 L939.3,677.0 L939.7,672.2 L940.2,667.5 L940.8,663.0 L941.5,658.6 L942.2,654.3 L943.0,650.1 L943.9,646.0 L944.9,642.1 L945.9,638.2 L947.0,634.5 L948.2,630.9 L949.4,627.3 L950.7,623.9 L952.0,620.6 L953.4,617.3 L954.9,614.2 L956.4,611.1 L958.0,608.1 L959.6,605.2 L961.3,602.4 L963.1,599.7 L964.8,597.0 L966.7,594.5 L968.6,592.0 L970.5,589.5 L972.4,587.2 L974.4,584.9 L976.5,582.6 L978.5,580.4 L980.6,578.3 L982.7,576.2 L984.9,574.2 L987.1,572.2 L989.3,570.2 L991.5,568.3 L993.8,566.5 L996.1,564.6 L998.4,562.8 L1000.7,561.1 L1003.0,559.4 L1005.3,557.7 L1007.7,556.0 L1010.1,554.3Z M861.6,1236.0 L864.1,1234.0 L866.7,1232.0 L869.2,1229.9 L871.7,1227.9 L874.2,1225.8 L876.6,1223.6 L879.0,1221.5 L881.4,1219.3 L883.8,1217.0 L886.1,1214.8 L888.4,1212.4 L890.6,1210.0 L892.9,1207.6 L895.0,1205.1 L897.2,1202.6 L899.3,1200.0 L901.3,1197.3 L903.3,1194.6 L905.3,1191.8 L907.2,1188.9 L909.0,1186.0 L910.8,1183.0 L912.6,1179.9 L914.3,1176.7 L916.0,1173.5 L917.6,1170.2 L919.1,1166.8 L920.6,1163.3 L922.0,1159.7 L923.4,1156.0 L924.6,1152.2 L925.9,1148.3 L927.0,1144.3 L928.1,1140.3 L929.1,1136.1 L930.0,1131.8 L930.9,1127.3 L931.7,1122.8 L932.4,1118.1 L933.0,1113.4 L933.5,1108.5 L934.0,1103.5 L934.4,1098.3 L934.6,1093.0 L934.9,1087.6 L935.0,1082.1 L935.0,1076.4 L927.7,1076.4 L927.7,1082.0 L927.6,1087.4 L927.4,1092.7 L927.1,1097.8 L926.7,1102.9 L926.3,1107.7 L925.7,1112.5 L925.1,1117.1 L924.5,1121.6 L923.7,1126.0 L922.9,1130.3 L922.0,1134.4 L921.0,1138.5 L920.0,1142.4 L918.9,1146.2 L917.7,1149.9 L916.5,1153.6 L915.2,1157.1 L913.8,1160.5 L912.4,1163.8 L911.0,1167.1 L909.4,1170.2 L907.8,1173.3 L906.2,1176.3 L904.5,1179.2 L902.7,1182.0 L900.9,1184.8 L899.0,1187.4 L897.1,1190.1 L895.2,1192.6 L893.2,1195.1 L891.1,1197.5 L889.1,1199.9 L886.9,1202.2 L884.8,1204.5 L882.6,1206.7 L880.3,1208.9 L878.1,1211.0 L875.8,1213.1 L873.4,1215.2 L871.1,1217.2 L868.7,1219.2 L866.2,1221.2 L863.8,1223.1 L861.3,1225.1 L858.8,1227.0 L856.2,1228.8Z M1010.3,1228.8 L1007.7,1227.0 L1005.2,1225.1 L1002.7,1223.1 L1000.2,1221.2 L997.8,1219.2 L995.4,1217.2 L993.0,1215.2 L990.6,1213.1 L988.3,1211.0 L986.0,1208.9 L983.8,1206.7 L981.6,1204.5 L979.4,1202.2 L977.3,1199.9 L975.2,1197.5 L973.2,1195.1 L971.2,1192.6 L969.2,1190.0 L967.3,1187.4 L965.4,1184.8 L963.6,1182.0 L961.8,1179.2 L960.1,1176.3 L958.4,1173.3 L956.8,1170.2 L955.3,1167.1 L953.8,1163.8 L952.4,1160.5 L951.1,1157.1 L949.8,1153.6 L948.5,1149.9 L947.4,1146.2 L946.3,1142.4 L945.2,1138.5 L944.2,1134.4 L943.3,1130.3 L942.5,1126.0 L941.8,1121.6 L941.1,1117.1 L940.5,1112.5 L939.9,1107.7 L939.5,1102.9 L939.1,1097.8 L938.8,1092.7 L938.6,1087.4 L938.5,1082.0 L938.5,1076.4 L931.2,1076.4 L931.2,1082.1 L931.3,1087.6 L931.6,1093.0 L931.8,1098.3 L932.2,1103.5 L932.7,1108.5 L933.2,1113.4 L933.9,1118.1 L934.6,1122.8 L935.3,1127.3 L936.2,1131.8 L937.1,1136.1 L938.1,1140.3 L939.2,1144.3 L940.4,1148.3 L941.6,1152.2 L942.9,1156.0 L944.2,1159.7 L945.7,1163.3 L947.2,1166.8 L948.7,1170.2 L950.3,1173.5 L952.0,1176.7 L953.7,1179.9 L955.5,1183.0 L957.3,1186.0 L959.1,1188.9 L961.0,1191.8 L963.0,1194.6 L965.0,1197.3 L967.1,1200.0 L969.2,1202.6 L971.3,1205.1 L973.5,1207.6 L975.7,1210.1 L978.0,1212.4 L980.3,1214.8 L982.6,1217.0 L985.0,1219.3 L987.4,1221.5 L989.8,1223.6 L992.3,1225.8 L994.8,1227.9 L997.3,1229.9 L999.8,1232.0 L1002.4,1234.0 L1004.9,1236.0Z" fill="#000" clip-path="url(#clipD)"/>
<rect x="858.0" y="552.0" width="150.50" height="679.30" fill="none" stroke="#000" stroke-width="4.8"/>
<text x="934.8" y="1281.0" text-anchor="middle" font-size="44">D</text>
<!-- arrows between panels -->
<rect x="181" y="878.4" width="44.2" height="7" fill="#000"/><path d="M215.2,865.5 Q244.6,877.5 268.6,881.9 Q244.6,886.3 215.2,898.3 L215.2,895.7 L223.2,883.4 L223.2,880.4 L215.2,868.1 Z" fill="#000"/>
<rect x="481" y="878.4" width="44.2" height="7" fill="#000"/><path d="M515.2,865.5 Q544.6,877.5 568.6,881.9 Q544.6,886.3 515.2,898.3 L515.2,895.7 L523.2,883.4 L523.2,880.4 L515.2,868.1 Z" fill="#000"/>
<rect x="761.5" y="878.4" width="44.4" height="7" fill="#000"/><path d="M795.9,865.5 Q825.3,877.5 849.3,881.9 Q825.3,886.3 795.9,898.3 L795.9,895.7 L803.9,883.4 L803.9,880.4 L795.9,868.1 Z" fill="#000"/>
</svg>
</body></html>
